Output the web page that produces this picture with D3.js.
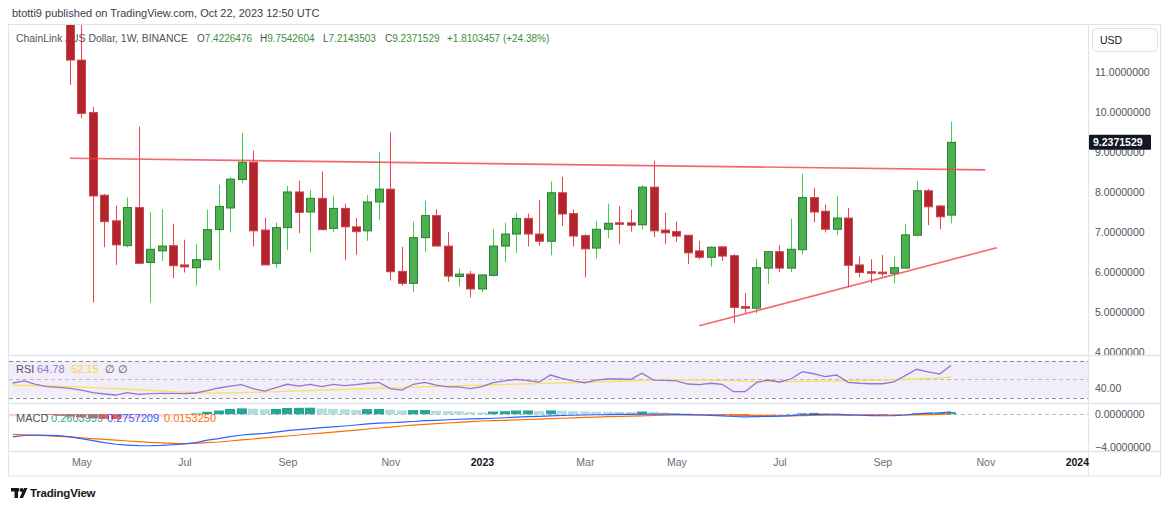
<!DOCTYPE html>
<html>
<head>
<meta charset="utf-8">
<script src="https://cdn.jsdelivr.net/npm/d3@7"></script>
<style>
  body { margin: 0; background: #fff; }
  svg { display: block; font-family: "Liberation Sans", Arial, sans-serif; }
</style>
</head>
<body>
<svg id="chart" width="1170" height="509"></svg>
<script>
//---------------- weekly LINK/USD candles, first bar 2022-04-25 ----------------
var firstWeek = "2022-04-25";
var opens = [12.90, 11.29, 9.98, 7.92, 7.28, 6.66, 7.61, 6.24, 6.53, 6.66, 6.18, 6.11, 6.31, 7.06, 7.60, 8.31, 8.74, 7.05, 6.22, 7.11,
  8.00, 7.50, 7.84, 7.09, 7.59, 7.13, 7.03, 7.75, 8.07, 6.02, 5.72, 6.86, 7.41, 6.65, 5.89, 5.95, 5.58, 5.92, 6.65, 6.95,
  7.34, 6.95, 6.77, 7.98, 7.46, 6.91, 6.60, 7.07, 7.23, 7.23, 7.18, 8.12, 7.05, 7.01, 6.92, 6.53, 6.37, 6.63, 6.41, 5.14,
  5.10, 6.10, 6.51, 6.10, 6.56, 7.86, 7.52, 7.07, 7.35, 6.18, 6.01, 6.00, 5.97, 6.10, 6.92, 8.03, 7.65, 7.4226476];
var highs = [13.60, 12.30, 10.12, 7.95, 7.66, 7.86, 9.63, 7.49, 7.57, 7.21, 6.81, 6.70, 7.56, 8.18, 8.36, 9.47, 9.03, 7.36, 7.24, 8.15,
  8.28, 8.05, 8.51, 7.91, 7.71, 7.35, 7.92, 8.99, 9.49, 6.63, 7.26, 7.78, 7.57, 7.00, 6.09, 6.03, 5.93, 7.07, 7.23, 7.48,
  7.46, 7.80, 8.26, 8.38, 7.56, 6.95, 7.28, 7.71, 7.64, 7.56, 8.17, 8.78, 7.48, 7.26, 6.93, 6.78, 6.64, 6.65, 6.45, 5.48,
  6.33, 6.53, 6.67, 7.33, 8.45, 8.10, 7.68, 7.89, 7.60, 6.39, 6.32, 6.43, 6.39, 7.21, 8.27, 8.08, 7.68, 9.7542604];
var lows = [10.67, 9.84, 5.24, 6.62, 6.18, 6.62, 6.20, 5.24, 6.28, 5.85, 5.99, 5.66, 6.31, 6.05, 6.99, 8.21, 6.64, 6.18, 6.10, 6.55,
  6.97, 6.49, 7.06, 6.99, 6.30, 6.43, 6.78, 7.31, 5.79, 5.66, 5.50, 6.51, 6.65, 5.76, 5.64, 5.37, 5.50, 5.89, 6.25, 6.48,
  6.64, 6.66, 6.42, 7.15, 6.64, 5.87, 6.34, 6.85, 6.70, 7.01, 7.07, 6.87, 6.70, 6.76, 6.20, 6.32, 6.14, 6.28, 4.73, 4.97,
  4.97, 5.70, 6.00, 6.00, 6.44, 7.24, 6.99, 6.92, 5.62, 5.87, 5.72, 5.89, 5.72, 6.10, 6.89, 7.17, 7.07, 7.2143503];
var closes = [11.29, 9.96, 7.90, 7.26, 6.68, 7.61, 6.22, 6.57, 6.65, 6.16, 6.13, 6.31, 7.06, 7.64, 8.32, 8.74, 7.03, 6.18, 7.11, 8.00,
  7.49, 7.84, 7.06, 7.59, 7.13, 7.01, 7.75, 8.07, 6.01, 5.72, 6.86, 7.41, 6.65, 5.90, 5.95, 5.58, 5.93, 6.65, 6.95, 7.34,
  6.95, 6.77, 7.98, 7.45, 6.90, 6.58, 7.07, 7.22, 7.21, 7.17, 8.12, 7.03, 6.98, 6.90, 6.48, 6.37, 6.62, 6.40, 5.12, 5.10,
  6.11, 6.51, 6.10, 6.57, 7.86, 7.50, 7.07, 7.35, 6.17, 5.99, 5.99, 5.96, 6.11, 6.93, 8.03, 7.63, 7.38, 9.2371529];

//---------------- indicators, first value 2022-03-21 (5 bars off the top) ----------------
var indFirstWeek = "2022-03-21";
var rsi = [45.9, 48.1, 44.5, 41.9, 41.2, 40.1, 38.3, 35.4, 34.0, 32.9, 35.4, 33.6, 34.3, 34.7, 34.7, 34.3, 35.1, 37.6, 40.5, 42.6,
  44.1, 39.8, 37.2, 40.8, 44.5, 42.6, 44.5, 41.9, 44.5, 43.0, 44.1, 45.6, 46.6, 39.8, 38.3, 44.5, 46.6, 43.7, 41.6, 41.6,
  39.8, 41.9, 46.2, 48.1, 49.9, 48.4, 47.0, 54.5, 51.0, 48.1, 46.2, 49.1, 50.2, 50.2, 49.9, 56.4, 49.1, 48.8, 48.1, 44.8,
  44.1, 45.6, 44.5, 36.5, 36.5, 46.2, 49.1, 47.0, 50.2, 58.1, 55.9, 52.7, 54.5, 46.6, 45.6, 45.1, 45.1, 47.0, 53.8, 60.7,
  57.8, 55.6, 64.78];
var rsiMa = [43.7, 43.4, 43.0, 42.7, 42.4, 42.0, 41.5, 41.0, 40.4, 39.8, 39.2, 38.6, 37.9, 37.2, 36.6, 36.0, 35.4, 35.0, 35.0, 35.2,
  35.5, 35.8, 36.2, 36.6, 37.0, 37.4, 37.8, 38.2, 38.6, 39.0, 39.4, 39.8, 40.2, 40.6, 41.0, 41.4, 41.8, 42.2, 42.6, 43.0,
  43.4, 43.7, 44.0, 44.3, 44.6, 44.9, 45.2, 45.5, 45.8, 46.2, 46.6, 47.0, 47.4, 47.8, 48.2, 48.6, 48.9, 49.1, 49.2, 49.2,
  49.1, 49.0, 48.8, 48.4, 48.0, 47.7, 47.5, 47.3, 47.4, 47.6, 47.8, 48.0, 48.2, 48.4, 48.6, 48.8, 49.0, 49.3, 49.7, 50.2,
  50.8, 51.5, 52.15];
var macd = [-2.80, -2.62, -2.56, -2.60, -2.64, -2.80, -3.00, -3.25, -3.50, -3.70, -3.80, -3.87, -3.88, -3.84, -3.76, -3.65, -3.50, -3.20, -3.00, -2.75,
  -2.56, -2.45, -2.35, -2.20, -2.03, -1.90, -1.78, -1.66, -1.55, -1.45, -1.33, -1.20, -1.10, -1.05, -0.98, -0.90, -0.80, -0.75, -0.68, -0.62,
  -0.58, -0.55, -0.50, -0.44, -0.37, -0.30, -0.26, -0.20, -0.16, -0.13, -0.10, -0.07, -0.05, -0.03, -0.02, 0.02, 0.02, 0.00, -0.02, -0.06,
  -0.10, -0.15, -0.20, -0.28, -0.33, -0.30, -0.27, -0.24, -0.18, -0.08, -0.02, -0.02, -0.03, -0.08, -0.13, -0.17, -0.19, -0.18, -0.10, 0.05,
  0.13, 0.18, 0.2757209];
var signal = [-2.49, -2.55, -2.60, -2.64, -2.72, -2.80, -2.90, -3.00, -3.10, -3.20, -3.30, -3.38, -3.46, -3.54, -3.60, -3.63, -3.60, -3.50, -3.42, -3.30,
  -3.17, -3.05, -2.92, -2.80, -2.68, -2.56, -2.44, -2.32, -2.20, -2.08, -1.96, -1.82, -1.70, -1.58, -1.45, -1.35, -1.26, -1.17, -1.08, -1.00,
  -0.92, -0.84, -0.80, -0.75, -0.70, -0.65, -0.60, -0.55, -0.50, -0.45, -0.40, -0.35, -0.31, -0.27, -0.24, -0.20, -0.16, -0.13, -0.10, -0.09,
  -0.09, -0.10, -0.10, -0.12, -0.14, -0.16, -0.18, -0.20, -0.20, -0.18, -0.15, -0.13, -0.12, -0.11, -0.10, -0.10, -0.10, -0.10, -0.10, -0.08,
  -0.05, -0.02, 0.0153250];
var hist = [-0.25, -0.12, -0.05, -0.10, -0.20, -0.30, -0.40, -0.50, -0.58, -0.60, -0.55, -0.48, -0.40, -0.30, -0.18, -0.06, 0.10, 0.30, 0.45, 0.65,
  0.72, 0.68, 0.60, 0.65, 0.76, 0.78, 0.80, 0.70, 0.66, 0.60, 0.52, 0.63, 0.65, 0.55, 0.47, 0.50, 0.52, 0.42, 0.38, 0.36,
  0.26, 0.22, 0.33, 0.37, 0.45, 0.46, 0.40, 0.47, 0.43, 0.38, 0.34, 0.33, 0.30, 0.28, 0.27, 0.33, 0.28, 0.20, 0.15, 0.10,
  0.04, -0.05, -0.10, -0.17, -0.22, -0.16, -0.10, -0.04, 0.04, 0.12, 0.16, 0.13, 0.10, 0.03, -0.04, -0.08, -0.10, -0.08, -0.02, 0.08,
  0.15, 0.18, 0.2603959];

//---------------- axes / drawings ----------------
var priceTicks = [4, 5, 6, 7, 8, 9, 10, 11];
var timeTicks = ["2022-05-02", "2022-07-04", "2022-09-05", "2022-11-07", "2023-01-02", "2023-03-06",
  "2023-05-01", "2023-07-03", "2023-09-04", "2023-11-06", "2024-01-01"];
var timeLabels = ["May", "Jul", "Sep", "Nov", "2023", "Mar", "May", "Jul", "Sep", "Nov", "2024"];
var resistance = [["2022-04-25", 8.84], ["2023-11-06", 8.55]];
var support = [["2023-05-15", 4.66], ["2023-11-13", 6.61]];

var svg = d3.select("#chart");
var paneL = 9, paneR = 1088;
var mainTop = 25, mainBot = 355, rsiTop = 356, rsiBot = 403, macdTop = 404, macdBot = 451, frameBot = 476;
var upBody = "#4caf50", upBorder = "#2e7d32", upWick = "#3fd14a";
var dnBody = "#b2252f", dnBorder = "#d0434d", dnWick = "#f0444c";
var gridCol = "#e0e3eb", axisText = "#50535e";

var parseDay = d3.utcParse("%Y-%m-%d");
var weeks = d3.utcMonday.range(parseDay(firstWeek), d3.utcMonday.offset(parseDay(firstWeek), opens.length));
var indWeeks = d3.utcMonday.range(parseDay(indFirstWeek), d3.utcMonday.offset(parseDay(indFirstWeek), rsi.length));

var x = d3.scaleUtc().domain([weeks[0], weeks[weeks.length - 1]]).range([70, 951]);
var y = d3.scaleLinear().domain([4, 11]).range([352.3, 71.7]);
var yRsi = d3.scaleLinear().domain([30, 70]).range([397.7, 360.7]);
var yMacd = d3.scaleLinear().domain([-4, 0]).range([446.7, 414.2]);

svg.append("rect").attr("width", 1170).attr("height", 509).attr("fill", "#fff");

var defs = svg.append("defs");
function addClip(id, x0, y0, x1, y1) {
  defs.append("clipPath").attr("id", id).append("rect")
    .attr("x", x0).attr("y", y0).attr("width", x1 - x0).attr("height", y1 - y0);
}
addClip("clipMain", paneL, mainTop, paneR, mainBot);
addClip("clipRsi", paneL, rsiTop, paneR, rsiBot);
addClip("clipMacd", paneL, macdTop, paneR, macdBot);
addClip("clipAxis", paneR, mainTop, 1161, mainBot);

// header line
svg.append("text").attr("x", 12).attr("y", 17)
  .attr("font-size", 11).attr("fill", "#3a3d46")
  .text("btotti9 published on TradingView.com, Oct 22, 2023 12:50 UTC");

// frame and pane separators
svg.append("rect").attr("x", 8.5).attr("y", 24.5).attr("width", 1152).attr("height", frameBot - 24.5)
  .attr("fill", "none").attr("stroke", gridCol);
[mainBot, rsiBot, macdBot].forEach(function(v) {
  svg.append("line").attr("x1", 9).attr("x2", 1161).attr("y1", v + 0.5).attr("y2", v + 0.5)
    .attr("stroke", gridCol).attr("stroke-width", 1.5);
});
svg.append("line").attr("x1", paneR + 0.5).attr("x2", paneR + 0.5).attr("y1", 25).attr("y2", frameBot)
  .attr("stroke", gridCol);

//--------------------- main pane ---------------------
var legend = svg.append("g").attr("font-size", 10.5);
legend.append("text").attr("x", 16).attr("y", 42).attr("fill", axisText)
  .attr("textLength", 172).attr("lengthAdjust", "spacingAndGlyphs")
  .text("ChainLink / US Dollar, 1W, BINANCE");
var ohlcParts = [
  [197, "O", "7.4226476"], [260, "H", "9.7542604"], [323, "L", "7.2143503"], [385, "C", "9.2371529"]
];
ohlcParts.forEach(function(p) {
  var t = legend.append("text").attr("x", p[0]).attr("y", 42).attr("font-size", 10);
  t.append("tspan").attr("fill", axisText).text(p[1]);
  t.append("tspan").attr("fill", "#3c8d40").text(p[2]);
});
legend.append("text").attr("x", 447).attr("y", 42).attr("font-size", 10).attr("fill", "#3c8d40")
  .text("+1.8103457 (+24.38%)");

var main = svg.append("g").attr("clip-path", "url(#clipMain)");
var candles = weeks.map(function(d, i) {
  return { date: d, o: opens[i], h: highs[i], l: lows[i], c: closes[i] };
});
var cg = main.selectAll("g.candle").data(candles).enter().append("g").attr("class", "candle");
cg.append("line")
  .attr("x1", function(d) { return Math.round(x(d.date)) + 0.5; })
  .attr("x2", function(d) { return Math.round(x(d.date)) + 0.5; })
  .attr("y1", function(d) { return y(d.h); })
  .attr("y2", function(d) { return y(d.l); })
  .attr("stroke", function(d) { return d.c >= d.o ? upWick : dnWick; });
cg.append("rect")
  .attr("x", function(d) { return Math.round(x(d.date)) - 3.5; })
  .attr("width", 8)
  .attr("y", function(d) { return y(Math.max(d.o, d.c)); })
  .attr("height", function(d) { return Math.max(1.5, Math.abs(y(d.o) - y(d.c))); })
  .attr("fill", function(d) { return d.c >= d.o ? upBody : dnBody; })
  .attr("stroke", function(d) { return d.c >= d.o ? upBorder : dnBorder; })
  .attr("stroke-width", 1);

var tline = d3.line().x(function(d) { return x(parseDay(d[0])); }).y(function(d) { return y(d[1]); });
[resistance, support].forEach(function(seg) {
  main.append("path").attr("d", tline(seg)).attr("fill", "none")
    .attr("stroke", "#f0434b").attr("stroke-opacity", 0.8).attr("stroke-width", 1.6);
});

//--------------------- RSI pane ---------------------
var rsiG = svg.append("g").attr("clip-path", "url(#clipRsi)");
rsiG.append("rect").attr("x", paneL).attr("width", paneR - paneL)
  .attr("y", yRsi(70)).attr("height", yRsi(30) - yRsi(70)).attr("fill", "#7e57c2").attr("fill-opacity", 0.1);
[[70, "#8a8d96"], [50, "#b8bbc4"], [30, "#8a8d96"]].forEach(function(b) {
  rsiG.append("line").attr("x1", paneL).attr("x2", paneR)
    .attr("y1", Math.round(yRsi(b[0])) + 0.5).attr("y2", Math.round(yRsi(b[0])) + 0.5)
    .attr("stroke", b[1]).attr("stroke-dasharray", "4,3");
});
var rsiLine = d3.line().x(function(d, i) { return x(indWeeks[i]); }).y(function(d) { return yRsi(d); });
rsiG.append("path").attr("d", rsiLine(rsiMa))
  .attr("fill", "none").attr("stroke", "#f7e25a").attr("stroke-width", 1.3);
rsiG.append("path").attr("d", rsiLine(rsi))
  .attr("fill", "none").attr("stroke", "#9575cd").attr("stroke-width", 1.3);

//--------------------- MACD pane ---------------------
var macdG = svg.append("g").attr("clip-path", "url(#clipMacd)");
macdG.append("line").attr("x1", paneL).attr("x2", paneR)
  .attr("y1", Math.round(yMacd(0)) + 0.5).attr("y2", Math.round(yMacd(0)) + 0.5)
  .attr("stroke", "#b8bbc4").attr("stroke-dasharray", "4,3");
function histColor(v, i) {
  var prev = i > 0 ? hist[i - 1] : v;
  if (v >= 0) return v >= prev ? "#26a69a" : "#b2dfdb";
  return (i > 0 && v < prev) ? "#ff5252" : "#ffcdd2";
}
macdG.selectAll("rect.bar").data(hist).enter().append("rect").attr("class", "bar")
  .attr("x", function(d, i) { return Math.round(x(indWeeks[i])) - 5; })
  .attr("width", 10)
  .attr("y", function(d) { return Math.min(yMacd(0), yMacd(d)); })
  .attr("height", function(d) { return Math.abs(yMacd(d) - yMacd(0)); })
  .attr("fill", histColor);
var macdLine = d3.line().x(function(d, i) { return x(indWeeks[i]); }).y(function(d) { return yMacd(d); });
macdG.append("path").attr("d", macdLine(signal)).attr("fill", "none").attr("stroke", "#ff6d00").attr("stroke-width", 1.2);
macdG.append("path").attr("d", macdLine(macd)).attr("fill", "none").attr("stroke", "#2962ff").attr("stroke-width", 1.2);

// indicator legends
var il = svg.append("g").attr("font-size", 11);
[[16, "RSI", axisText], [37, "64.78", "#9575cd"], [71, "52.15", "#f2d73e"], [105, "\u2205", axisText], [118, "\u2205", axisText]]
  .forEach(function(p) {
    il.append("text").attr("x", p[0]).attr("y", 373).attr("fill", p[2]).text(p[1]);
  });
[[16, "MACD", axisText], [51, "0.2603959", "#26a69a"], [107, "0.2757209", "#2962ff"], [164, "0.0153250", "#ff6d00"]]
  .forEach(function(p) {
    il.append("text").attr("x", p[0]).attr("y", 422).attr("fill", p[2]).text(p[1]);
  });

//--------------------- axes ---------------------
function styleAxis(g) {
  g.select(".domain").remove();
  g.selectAll("text").attr("font-size", 10.5).attr("fill", axisText).attr("font-family", null);
}
var priceAxis = svg.append("g").attr("clip-path", "url(#clipAxis)")
  .append("g").attr("transform", "translate(" + paneR + ",0)")
  .call(d3.axisRight(y).tickValues(priceTicks).tickSize(0).tickPadding(7).tickFormat(d3.format(".7f")));
styleAxis(priceAxis);

var rsiAxis = svg.append("g").attr("transform", "translate(" + paneR + ",0)")
  .call(d3.axisRight(yRsi).tickValues([40]).tickSize(0).tickPadding(7).tickFormat(d3.format(".2f")));
styleAxis(rsiAxis);

var macdAxis = svg.append("g").attr("transform", "translate(" + paneR + ",0)")
  .call(d3.axisRight(yMacd).tickValues([0, -4]).tickSize(0).tickPadding(7).tickFormat(d3.format(".7f")));
styleAxis(macdAxis);

var timeAxis = svg.append("g").attr("transform", "translate(0," + macdBot + ")")
  .call(d3.axisBottom(x).tickValues(timeTicks.map(parseDay)).tickSize(0).tickPadding(8)
    .tickFormat(function(d, i) { return timeLabels[i]; }));
timeAxis.select(".domain").remove();
timeAxis.selectAll("text").attr("font-size", 10.5).attr("font-family", null)
  .attr("fill", function(d, i) { return /^\d+$/.test(timeLabels[i]) ? "#131722" : "#6a6d78"; })
  .attr("font-weight", function(d, i) { return /^\d+$/.test(timeLabels[i]) ? "bold" : null; });

// last price tag and currency box
var last = closes[closes.length - 1];
svg.append("rect").attr("x", paneR + 1).attr("y", y(last) - 7.5).attr("width", 62).attr("height", 15)
  .attr("fill", "#131722").attr("rx", 1);
svg.append("text").attr("x", paneR + 5).attr("y", y(last) + 4).attr("font-size", 10.5)
  .attr("font-weight", "bold").attr("fill", "#fff").text(d3.format(".7f")(last));
svg.append("rect").attr("x", 1092.5).attr("y", 28.5).attr("width", 65).attr("height", 23).attr("rx", 4)
  .attr("fill", "#fff").attr("stroke", gridCol);
svg.append("text").attr("x", 1100).attr("y", 44).attr("font-size", 10.5).attr("fill", "#131722").text("USD");

// TradingView mark
var logo = svg.append("g").attr("fill", "#131722");
logo.append("rect").attr("x", 11).attr("y", 488).attr("width", 8).attr("height", 3.5);
logo.append("rect").attr("x", 14.5).attr("y", 488).attr("width", 3.5).attr("height", 10);
logo.append("circle").attr("cx", 21.5).attr("cy", 490).attr("r", 2);
logo.append("path").attr("d", "M24,488 L27.5,488 L23,498 L19.5,498 Z");
svg.append("text").attr("x", 30).attr("y", 497).attr("font-size", 11.5).attr("font-weight", "bold")
  .attr("fill", "#131722").attr("letter-spacing", -0.2).text("TradingView");
</script>
</body>
</html>
